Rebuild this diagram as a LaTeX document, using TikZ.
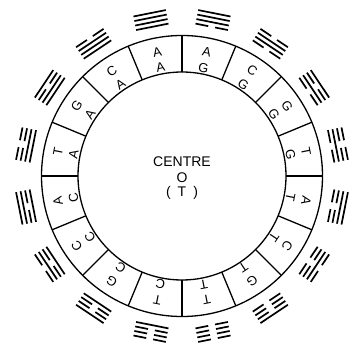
\documentclass[tikz,border=0pt]{standalone}
\usepackage{fontspec}
\setmainfont{Liberation Sans}
\begin{document}
\begin{tikzpicture}[x=1pt,y=1pt,
  ringline/.style={line width=1.3pt},
  symline/.style={line width=1.7pt},
  base/.style={font=\fontsize{13}{15}\selectfont, inner sep=0pt},
  ctext/.style={font=\fontsize{14}{16}\selectfont, inner sep=0pt, align=center}]
\useasboundingbox (-182,176) rectangle (170,-171);
\newcommand\tline[2]{\ifnum#2=1 \draw[symline] (-16.5,#1) -- (16.5,#1);\else \draw[symline] (-16.5,#1) -- (-3.5,#1) (3.5,#1) -- (16.5,#1);\fi}
% ring
\draw[ringline] (0,0) circle (140.5);
\draw[ringline] (0,0) circle (104);
\foreach \k in {0,...,15}{
  \draw[ringline] (90+22.5*\k:104) -- (90+22.5*\k:140.5);
}
% segments: angle / outer / inner / line codes (outer to inner)
\foreach \ang/\o/\n/\a/\b/\c/\d [count=\i] in {
  78.75/A/G/1/1/1/0,
  56.25/C/G/0/1/1/0,
  33.75/G/G/1/0/1/0,
  11.25/T/G/0/0/1/0,
  -11.25/A/T/1/1/0/0,
  -33.75/C/T/0/1/0/0,
  -56.25/G/T/1/0/0/0,
  -78.75/T/T/0/0/0/0,
  -101.25/T/C/0/0/0/1,
  -123.75/G/C/1/0/0/1,
  -146.25/C/C/0/1/0/1,
  -168.75/A/C/1/1/0/1,
  168.75/T/A/0/0/1/1,
  146.25/G/A/1/0/1/1,
  123.75/C/A/0/1/1/1,
  101.25/A/A/1/1/1/1}{
  \node[base, rotate=\ang-90] (out\i) at (\ang:126.5) {\o};
  \node[base, rotate=\ang-90] (in\i) at (\ang:110.5) {\n};
  \begin{scope}[shift={(\ang:159)}, rotate=\ang-90]
    \tline{6.9}{\a}
    \tline{2.3}{\b}
    \tline{-2.3}{\c}
    \tline{-6.9}{\d}
  \end{scope}
}
% centre
\node[ctext] (centre) at (0,14) {CENTRE};
\node[ctext] (o) at (0,-2) {O};
\node[ctext] (t) at (0,-17) {(\hspace{7pt}T\hspace{7pt})};
\end{tikzpicture}
\end{document}
